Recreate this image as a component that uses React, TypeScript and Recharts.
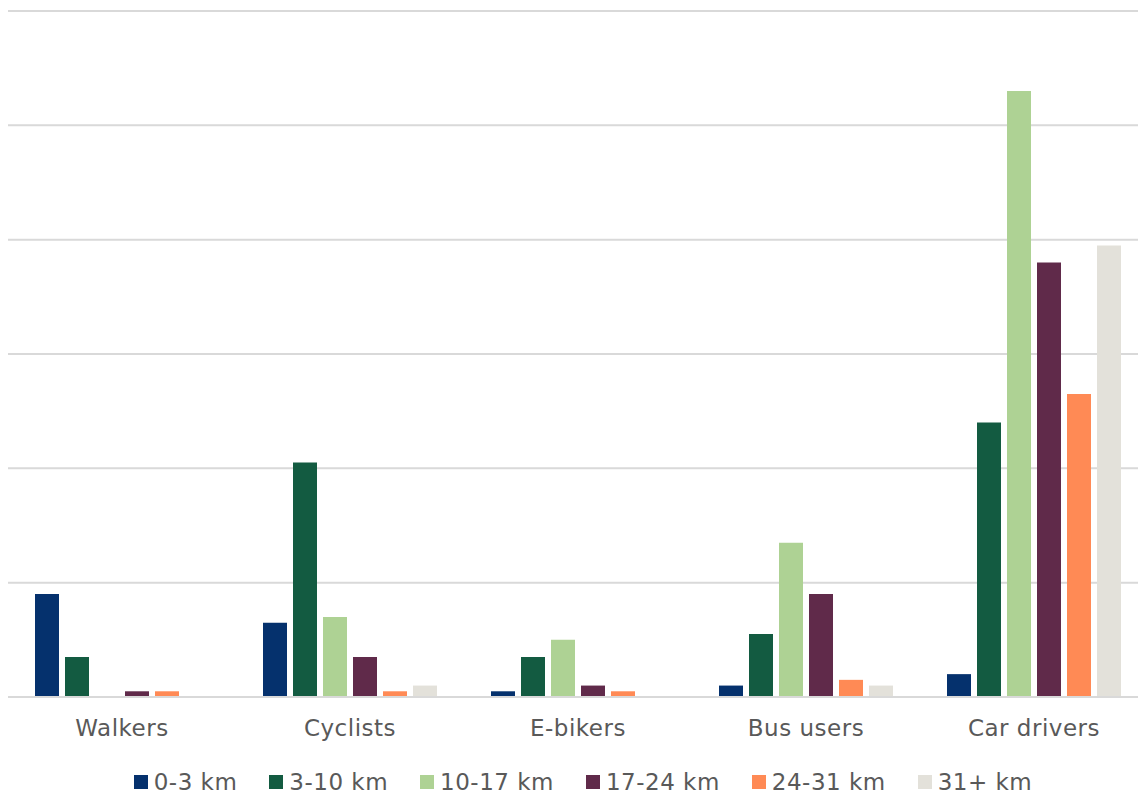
import { BarChart, Bar, XAxis, YAxis, CartesianGrid } from 'recharts';

const groups = ['Walkers', 'Cyclists', 'E-bikers', 'Bus users', 'Car drivers'];

const band03 = [18, 13, 1, 2, 4];
const band310 = [7, 41, 7, 11, 48];
const band1017 = [0, 14, 10, 27, 106];
const band1724 = [1, 7, 2, 18, 76];
const band2431 = [1, 1, 1, 3, 53];
const band31 = [0, 2, 0, 2, 79];

const yTicks = [0, 20, 40, 60, 80, 100, 120];

const series = [
  { key: 'b03', name: '0-3 km', values: band03, color: '#05316d' },
  { key: 'b310', name: '3-10 km', values: band310, color: '#135b41' },
  { key: 'b1017', name: '10-17 km', values: band1017, color: '#aed294' },
  { key: 'b1724', name: '17-24 km', values: band1724, color: '#602a4a' },
  { key: 'b2431', name: '24-31 km', values: band2431, color: '#ff8a55' },
  { key: 'b31', name: '31+ km', values: band31, color: '#e3e1da' },
];

const data = groups.map((g, i) => {
  const row: Record<string, string | number> = { group: g };
  series.forEach((s) => {
    row[s.key] = s.values[i];
  });
  return row;
});

const font = '"DejaVu Sans", Verdana, sans-serif';
const textColor = '#595959';

export default function App() {
  return (
    <div
      style={{
        position: 'absolute',
        left: 0,
        top: 0,
        width: 1138,
        height: 799,
        overflow: 'hidden',
        background: '#fff',
        fontFamily: font,
      }}
    >
      <BarChart
        width={1148}
        height={799}
        data={data}
        margin={{ top: 11, right: 0, left: 8, bottom: 62 }}
        barCategoryGap={27}
        barGap={6}
      >
        <CartesianGrid vertical={false} stroke="#d9d9d9" strokeWidth={2} />
        <YAxis hide domain={[0, 120]} ticks={yTicks} />
        <XAxis
          dataKey="group"
          height={40}
          axisLine={{ stroke: '#d9d9d9', strokeWidth: 2 }}
          tickLine={false}
          tickSize={0}
          tickMargin={23}
          tick={{ fill: textColor, fontSize: 23, fontFamily: font, letterSpacing: 0.5 }}
        />
        {series.map((s) => (
          <Bar
            key={s.key}
            dataKey={s.key}
            name={s.name}
            fill={s.color}
            isAnimationActive={false}
          />
        ))}
      </BarChart>
      <div
        style={{
          position: 'absolute',
          left: 9,
          top: 769,
          width: 1148,
          height: 26,
          display: 'flex',
          justifyContent: 'center',
          alignItems: 'center',
          gap: 32,
          color: textColor,
          fontSize: 23,
          letterSpacing: 0.5,
        }}
      >
        {series.map((s) => (
          <div key={s.key} style={{ display: 'flex', alignItems: 'center' }}>
            <span
              style={{
                width: 14,
                height: 14,
                background: s.color,
                marginRight: 6,
                display: 'inline-block',
              }}
            />
            <span style={{ whiteSpace: 'nowrap' }}>{s.name}</span>
          </div>
        ))}
      </div>
    </div>
  );
}
